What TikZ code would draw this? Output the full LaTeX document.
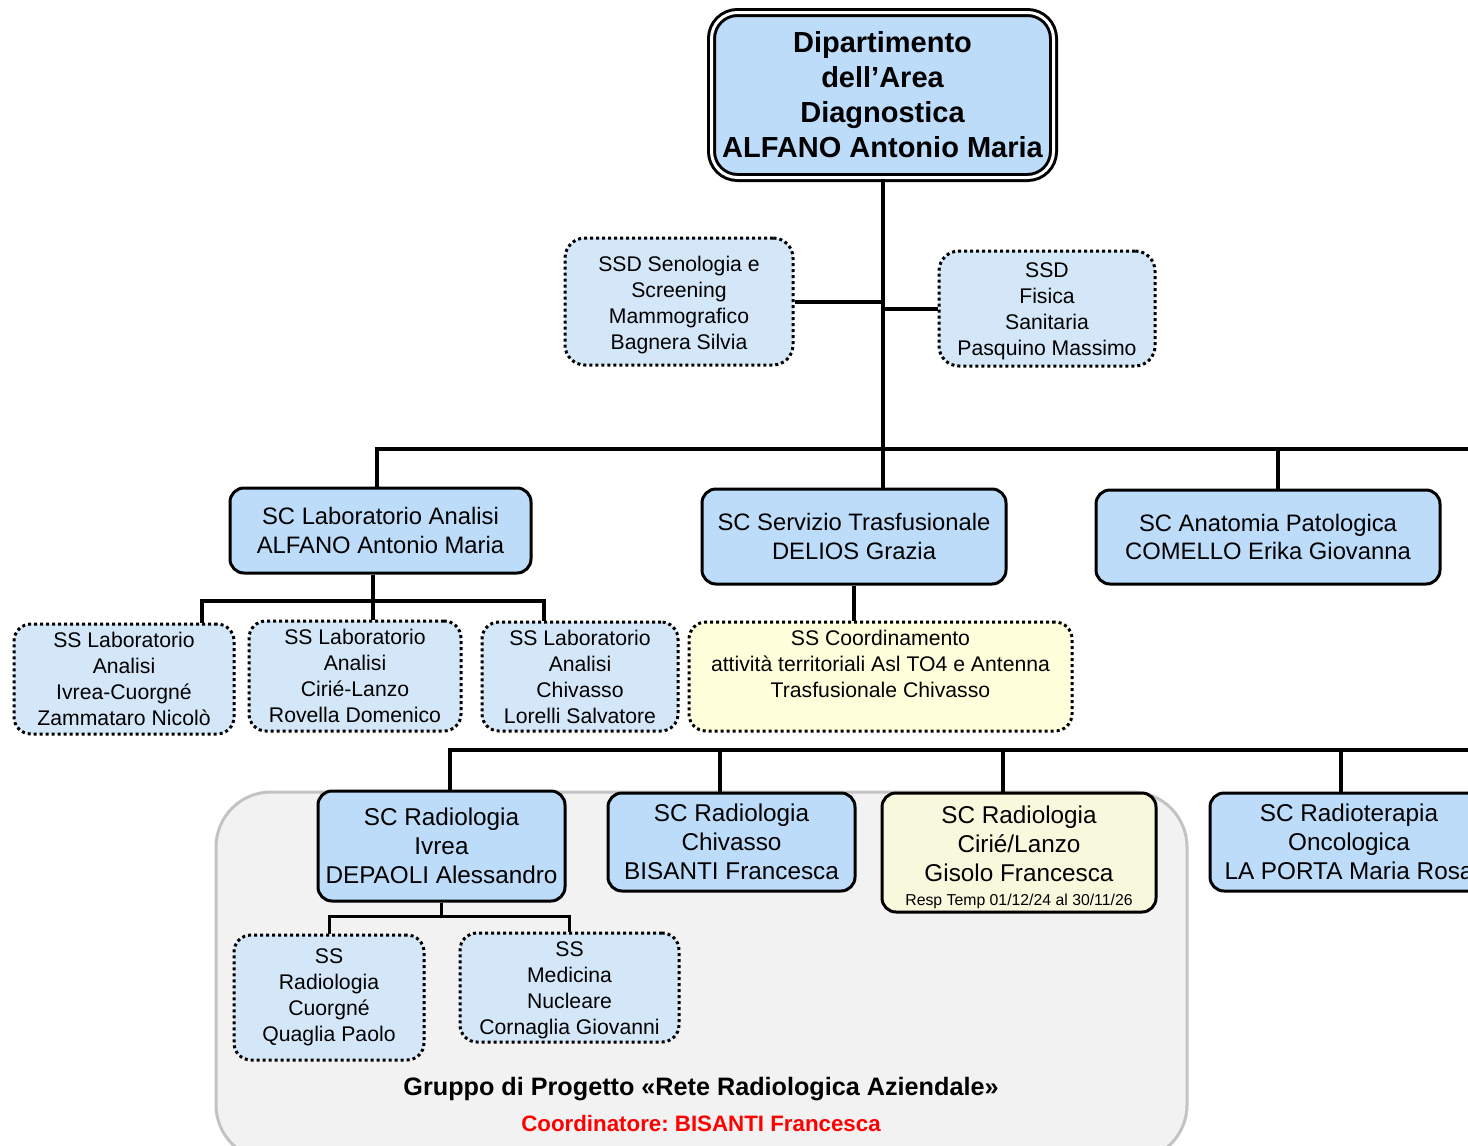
\documentclass[tikz,border=0pt]{standalone}
\usepackage{fontspec}
\setmainfont{Liberation Sans}
\frenchspacing
\definecolor{scblue}{HTML}{BDDCF9}
\definecolor{ssblue}{HTML}{D4E7F9}
\definecolor{ssyellow}{HTML}{FFFFDC}
\definecolor{scyellow}{HTML}{F8F8DC}
\definecolor{groupgray}{HTML}{F2F2F2}
\definecolor{groupline}{HTML}{C3C3C3}
\begin{document}
\begin{tikzpicture}[x=1pt,y=-1pt,
	sc/.style={draw,line width=3pt,rounded corners=14pt,fill=scblue,align=center,inner sep=0pt,font=\fontsize{23.8}{28.5}\selectfont},
	ss/.style={draw,line width=3pt,dash pattern=on 3pt off 3pt,rounded corners=17pt,fill=ssblue,align=center,inner sep=0pt,font=\fontsize{21.2}{26}\selectfont},
	link/.style={line width=4pt}]
				\useasboundingbox (0,0) rectangle (1468,1146);
				\clip (0,0) rectangle (1468,1146);
				\draw[line width=3pt, draw=groupline, fill=groupgray, rounded corners=55pt](216,792) rectangle (1187,1160);
				\node[sc, double, double distance=3pt, rounded corners=26pt, minimum width=342pt, minimum height=165pt, font=\fontsize{29}{35}\selectfont\bfseries] (dip) at (882.5,95) {Dipartimento\\dell’Area\\Diagnostica\\ALFANO Antonio Maria};
				\node[ss, rounded corners=20pt, minimum width=228pt, minimum height=127pt] (seno) at (679,301.5) {\mbox{}\\[-4.5pt]SSD Senologia e\\Screening\\Mammografico\\Bagnera Silvia};
				\node[ss, rounded corners=20pt, minimum width=216pt, minimum height=115pt] (fis) at (1047,308.5) {\mbox{}\\[-5pt]SSD\\Fisica\\Sanitaria\\Pasquino Massimo};
				\node[sc, minimum width=301pt, minimum height=85pt] (lab) at (380.5,530.5) {SC Laboratorio Analisi\\ALFANO Antonio Maria};
				\node[sc, minimum width=304pt, minimum height=95pt] (serv) at (854,536.5) {SC Servizio Trasfusionale\\DELIOS Grazia};
				\node[sc, minimum width=344pt, minimum height=94pt] (anat) at (1268,537) {SC Anatomia Patologica\\COMELLO Erika Giovanna};
				\node[ss, minimum width=220pt, minimum height=110pt] (labivr) at (124,679) {SS Laboratorio\\Analisi\\Ivrea-Cuorgné\\Zammataro Nicolò};
				\node[ss, minimum width=212pt, minimum height=110pt] (labcir) at (355,676) {SS Laboratorio\\Analisi\\Cirié-Lanzo\\Rovella Domenico};
				\node[ss, minimum width=196pt, minimum height=109pt] (labchi) at (580,676.5) {SS Laboratorio\\Analisi\\Chivasso\\Lorelli Salvatore};
				\node[ss, fill=ssyellow, minimum width=383pt, minimum height=109pt] (coord) at (880.5,676.5) {SS Coordinamento\\attività territoriali Asl TO4 e Antenna\\Trasfusionale Chivasso\\\mbox{}};
				\node[sc, minimum width=247pt, minimum height=110pt, font=\fontsize{24.3}{29}\selectfont] (radivr) at (441.5,846) {SC Radiologia\\Ivrea\\DEPAOLI Alessandro};
				\node[sc, minimum width=247pt, minimum height=98pt, font=\fontsize{24.3}{29}\selectfont] (radchi) at (731.5,842) {SC Radiologia\\Chivasso\\BISANTI Francesca};
				\node[sc, fill=scyellow, minimum width=274pt, minimum height=119pt, font=\fontsize{24.3}{29}\selectfont] (radcir) at (1019,852.5) {\mbox{}\\[-2pt]SC Radiologia\\Cirié/Lanzo\\Gisolo Francesca\\[-5pt]{\fontsize{15.8}{18}\selectfont Resp Temp 01/12/24 al 30/11/26}};
				\node[sc, minimum width=278pt, minimum height=98pt, font=\fontsize{24.3}{29}\selectfont] (radonc) at (1349,842) {SC Radioterapia\\Oncologica\\LA PORTA Maria Rosa};
				\node[ss, minimum width=190pt, minimum height=125pt] (radcuo) at (329,997.5) {SS\\Radiologia\\Cuorgné\\Quaglia Paolo};
				\node[ss, minimum width=219pt, minimum height=109pt] (mednuc) at (569.5,987.5) {\mbox{}\\[-6pt]SS\\Medicina\\Nucleare\\Cornaglia Giovanni};
				\node[font=\fontsize{25.2}{28}\selectfont\bfseries] (grp) at (701,1089) {Gruppo di Progetto «Rete Radiologica Aziendale»};
				\node[font=\fontsize{22.3}{24}\selectfont\bfseries, text=red] (grpcoord) at (701,1124) {Coordinatore: BISANTI Francesca};
				\coordinate (busone) at (1490,449);
				\coordinate (labbusL) at (202,601);
				\coordinate (labbusR) at (544,601);
				\coordinate (bustwoL) at (450,750);
				\coordinate (bustwoR) at (1490,750);
				\coordinate (ivrbus) at (441.5,916);
				\draw[link] (dip.south) -- (dip.south |- serv.north);
				\draw[link] (seno.east) -- (seno.east -| dip.south);
				\draw[link] (fis.west) -- (fis.west -| dip.south);
				\draw[link] ([xshift=-4pt]lab.north) |- (busone);
				\draw[link] ([xshift=10pt]anat.north) -- ([xshift=10pt]anat.north |- busone);
				\draw[link] ([xshift=-8pt]lab.south) -- ([xshift=-8pt]lab.south |- labbusL);
				\draw[link] (labbusL |- labivr.north) -- (labbusL) -- (labbusR) -- (labbusR |- labchi.north);
				\draw[link] ([xshift=-8pt]lab.south |- labbusL) -- ([xshift=-8pt]lab.south |- labcir.north);
				\draw[link] (serv.south) -- (serv.south |- coord.north);
				\draw[link] (bustwoL |- radivr.north) -- (bustwoL) -- (bustwoR);
				\foreach \x/\n in {720/radchi, 1003/radcir, 1341/radonc}
					\draw[link] (\x,750) -- (\x,750 |- \n.north);
				\draw[line width=3pt] (radivr.south) -- (ivrbus);
				\draw[line width=3pt] (radcuo.north) |- (ivrbus) -| (mednuc.north);
			\end{tikzpicture}
\end{document}
